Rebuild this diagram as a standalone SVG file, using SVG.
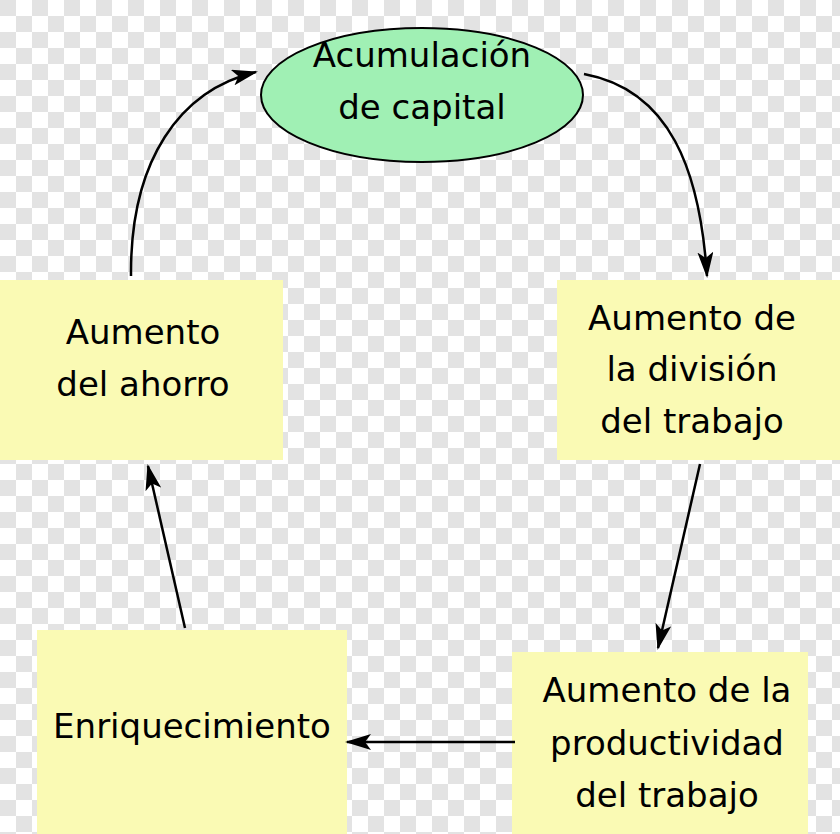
<svg xmlns="http://www.w3.org/2000/svg" width="840" height="834" viewBox="0 0 840 834">
<defs>
<pattern id="chk" width="32" height="32" patternUnits="userSpaceOnUse">
<rect width="32" height="32" fill="#fff"/>
<rect width="16" height="16" fill="#e3e3e3"/>
<rect x="16" y="16" width="16" height="16" fill="#e3e3e3"/>
</pattern>
<marker id="ah" viewBox="0 0 26 16" refX="24" refY="8" markerWidth="26" markerHeight="16" markerUnits="userSpaceOnUse" orient="auto">
<path d="M0,0 L26,8 L0,16 L6,8 Z" fill="#000"/>
</marker>
<style>
.box{fill:#fafab4}
text{font-family:"DejaVu Sans","Noto Sans",sans-serif;font-size:34px;fill:#000;text-anchor:middle}
.c{fill:none;stroke:#000;stroke-width:2.5;marker-end:url(#ah)}
</style>
</defs>
<rect width="840" height="834" fill="url(#chk)"/>
<g id="n1"><ellipse cx="422" cy="95" rx="161" ry="67" fill="#a0f0b4" stroke="#000" stroke-width="2"/>
<text x="422" y="67">Acumulación</text><text x="422" y="119">de capital</text></g>
<g id="n2"><rect class="box" x="557" y="280" width="283" height="180"/>
<text x="692" y="330">Aumento de</text><text x="692" y="381">la división</text><text x="692" y="433">del trabajo</text></g>
<g id="n3"><rect class="box" x="512" y="652" width="296" height="182"/>
<text x="667" y="702">Aumento de la</text><text x="667" y="755">productividad</text><text x="667" y="807">del trabajo</text></g>
<g id="n4"><rect class="box" x="37" y="630" width="310" height="204"/>
<text x="192" y="738">Enriquecimiento</text></g>
<g id="n5"><rect class="box" x="0" y="280" width="283" height="180"/>
<text x="143" y="344">Aumento</text><text x="143" y="396">del ahorro</text></g>
<g id="connectors">
<path class="c" d="M584,74 C670,90 700,170 707,276"/>
<path class="c" d="M700,464 L658,648"/>
<path class="c" d="M515,742 L347,742"/>
<path class="c" d="M185,628 L148,466"/>
<path class="c" d="M131,276 C130,160 180,90 256,72"/>
</g>
</svg>
